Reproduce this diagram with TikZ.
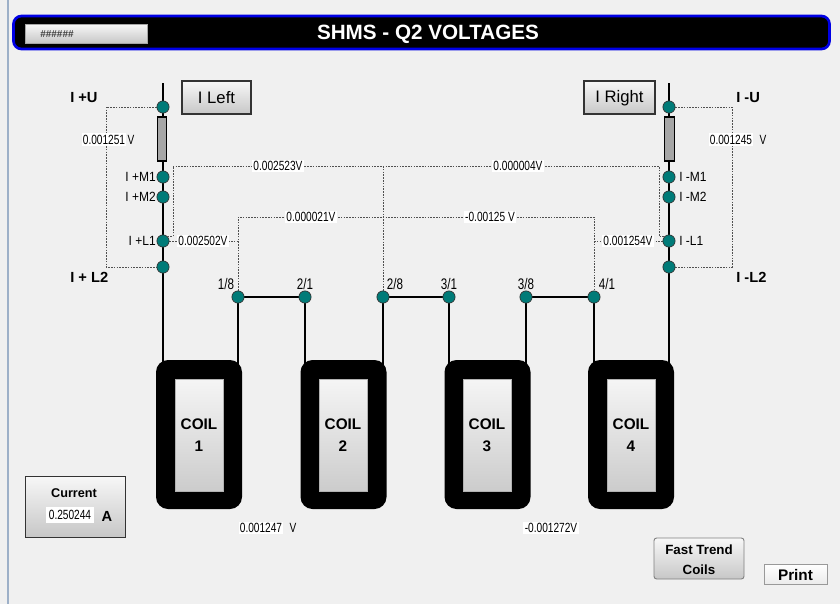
\documentclass[tikz,border=0pt]{standalone}
\usepackage{fontspec}
\setmainfont{Liberation Sans}
\newfontfamily\numf[FakeStretch=0.76]{Liberation Sans}
\newfontfamily\labf[FakeStretch=0.9]{Liberation Sans}
\usetikzlibrary{shadings}
\definecolor{bgc}{HTML}{F0F0F0}
\definecolor{tealc}{HTML}{007B78}
\definecolor{frame}{HTML}{9DB0C8}
\definecolor{dashc}{HTML}{505050}
\pgfdeclarelayer{bg}
\pgfsetlayers{bg,main}
\begin{document}
\begin{tikzpicture}[x=0.75pt,y=-0.75pt,
  wire/.style={draw=black,line width=1.3pt},
  dl/.style={draw=dashc,line width=0.7pt,dash pattern=on 1.2pt off 0.9pt},
  dot/.style={circle,fill=tealc,draw=black!80,line width=0.5pt,minimum size=9.2pt,inner sep=0pt},
  res/.style={rectangle,fill=gray!70,draw=black,line width=0.9pt,minimum width=7pt,minimum height=33pt,inner sep=0pt},
  coilbox/.style={rectangle,rounded corners=9pt,fill=black,minimum width=64.5pt,minimum height=111.75pt,inner sep=0pt},
  coilin/.style={rectangle,draw=gray!60,line width=0.4pt,top color=white!96!black,bottom color=black!20,minimum width=36pt,minimum height=84pt,inner sep=0pt,align=center,font=\bfseries\fontsize{11.5}{16.5}\selectfont},
  val/.style={fill=white,inner sep=1pt,font=\numf\fontsize{10}{11}\selectfont},
  vtxt/.style={inner sep=0.5pt,font=\numf\fontsize{10}{11}\selectfont},
  bl/.style={inner sep=0pt,font=\bfseries\fontsize{11}{12}\selectfont},
  sl/.style={inner sep=0pt,font=\labf\fontsize{10}{11}\selectfont},
  nl/.style={inner sep=0pt,font=\numf\fontsize{11.5}{12}\selectfont},
  btn/.style={rectangle,draw=black!80,line width=0.8pt,top color=white!97!black,bottom color=black!22,inner sep=0pt},
]
\begin{pgfonlayer}{bg}
\fill[bgc] (0,0) rectangle (840,604);
\end{pgfonlayer}
\useasboundingbox (0,0) rectangle (840,604);
\draw[frame,line width=0.8pt] (8,0) -- (8,604);

% title bar
\node[rectangle,rounded corners=6pt,fill=black,draw=blue!90!black,line width=2pt,minimum width=612pt,minimum height=24.75pt,inner sep=0pt] (bar) at (421.5,32.5) {};
\node[text=white,font=\bfseries\fontsize{15.5}{17}\selectfont,inner sep=0pt] (title) at (428,34) {SHMS - Q2 VOLTAGES};
\node[btn,draw=gray!70,line width=0.5pt,minimum width=91.5pt,minimum height=14.25pt] (hbtn) at (86,33.5) {};
\node[font=\bfseries\fontsize{7.5}{8}\selectfont,text=black!75,inner sep=0pt,anchor=west] (hash) at (40,34) {\#\#\#\#\#\#};

% coils
\node[coilbox] (c1) at (199,434.5) {};
\node[coilbox] (c2) at (343.5,434.5) {};
\node[coilbox] (c3) at (487.5,434.5) {};
\node[coilbox] (c4) at (631,434.5) {};
\node[coilin] (i1) at (199,435) {COIL\\1};
\node[coilin] (i2) at (343,435) {COIL\\2};
\node[coilin] (i3) at (487,435) {COIL\\3};
\node[coilin] (i4) at (631,435) {COIL\\4};

% left column
\coordinate (ltop) at (163,83);
\node[res] (lR) at (162,139) {};
\node[dot] (lU) at (163,107) {};
\node[dot] (lM1) at (163,177) {};
\node[dot] (lM2) at (163,197) {};
\node[dot] (lL1) at (163,241) {};
\node[dot] (lL2) at (163,267) {};
% right column
\coordinate (rtop) at (669,83);
\node[res] (rR) at (669.5,139) {};
\node[dot] (rU) at (669,107) {};
\node[dot] (rM1) at (669,177) {};
\node[dot] (rM2) at (669,197) {};
\node[dot] (rL1) at (669,241) {};
\node[dot] (rL2) at (669,267) {};
% bottom nodes
\node[dot] (n18) at (238,297) {};
\node[dot] (n21) at (305,297) {};
\node[dot] (n28) at (383,297) {};
\node[dot] (n31) at (449,297) {};
\node[dot] (n38) at (526,297) {};
\node[dot] (n41) at (594,297) {};
\coordinate (t28) at (383,166);

\begin{pgfonlayer}{bg}
\draw[wire] (ltop) -- (ltop |- c1.center);
\draw[wire] (rtop) -- (rtop |- c4.center);
\draw[wire] (n18.center) -- (n21.center);
\draw[wire] (n28.center) -- (n31.center);
\draw[wire] (n38.center) -- (n41.center);
\draw[wire] (n18.center) -- (n18 |- c1.center);
\draw[wire] (n21.center) -- (n21 |- c2.center);
\draw[wire] (n28.center) -- (n28 |- c2.center);
\draw[wire] (n31.center) -- (n31 |- c3.center);
\draw[wire] (n38.center) -- (n38 |- c3.center);
\draw[wire] (n41.center) -- (n41 |- c4.center);
% dashed measurement lines
\draw[dl] (lU) -- ++(-57,0) |- (lL2);
\draw[dl] (rU) -- ++(63,0) |- (rL2);
\draw[dl] (lL1.north east) -| (173,166) -- (659,166) |- (rL1.north west);
\draw[dl] (t28) -- (n28);
\draw[dl] (n18) -- (n18 |- 0,217) -| (n41);
\draw[dl] (lL1) -- (n18 |- lL1);
\draw[dl] (n41 |- rL1) -- (rL1);
\end{pgfonlayer}

% buttons
\node[btn,minimum width=51.75pt,minimum height=24.75pt,line width=1.1pt] (bL) at (216.5,97.5) {};
\node[font=\fontsize{12.5}{13}\selectfont,inner sep=0pt] at (216.5,98) {I Left};
\node[btn,minimum width=53.25pt,minimum height=24.75pt,line width=1.1pt] (bR) at (619.5,97.5) {};
\node[font=\fontsize{12.5}{13}\selectfont,inner sep=0pt] at (619.5,98) {I Right};

% left labels
\node[bl,anchor=west] (tIU) at (70,98) {I +U};
\node[bl,anchor=west] (tIL2) at (70,277) {I + L2};
\node[sl,anchor=east] (tM1) at (156,177) {I +M1};
\node[sl,anchor=east] (tM2) at (156,197) {I +M2};
\node[sl,anchor=east] (tL1) at (156,241) {I +L1};
% right labels
\node[bl,anchor=west] (tRU) at (736,98) {I -U};
\node[bl,anchor=west] (tRL2) at (736,277) {I -L2};
\node[sl,anchor=west] (tRM1) at (679,177) {I -M1};
\node[sl,anchor=west] (tRM2) at (679,197) {I -M2};
\node[sl,anchor=west] (tRL1) at (679,241) {I -L1};

% node labels
\node[nl] (l18) at (226,284) {1/8};
\node[nl] (l21) at (305,284) {2/1};
\node[nl] (l28) at (395,284) {2/8};
\node[nl] (l31) at (449,284) {3/1};
\node[nl] (l38) at (526,284) {3/8};
\node[nl] (l41) at (607,284) {4/1};

% voltage values
\node[val] (v1) at (104,139.5) {0.001251};
\node[vtxt,anchor=west] at (v1.east) {V};
\node[val] (v2) at (731,139.5) {0.001245};
\node[vtxt] at (763,139.5) {V};
\node[val] (v3) at (278,166) {0.002523V};
\node[val] (v4) at (518,166) {0.000004V};
\node[val] (v5) at (311,217) {0.000021V};
\node[val] (v6) at (490,217) {-0.00125 V};
\node[val] (v7) at (203,241) {0.002502V};
\node[val] (v8) at (628,241) {0.001254V};
\node[val] (v9) at (261,528) {0.001247};
\node[vtxt] at (293,528) {V};
\node[val] (v10) at (551,528) {-0.001272V};

% current box
\node[btn,minimum width=75pt,minimum height=45.75pt,line width=0.7pt] (cur) at (75,506.5) {};
\node[font=\bfseries\fontsize{9.5}{10}\selectfont,inner sep=0pt] at (74,493) {Current};
\node[val,minimum height=12pt,minimum width=36pt] (cv) at (70,515) {0.250244};
\node[font=\bfseries\fontsize{11}{12}\selectfont,inner sep=0pt] at (107,516) {A};

% fast trend & print
\node[btn,rounded corners=2pt,draw=gray,line width=0.7pt,minimum width=67.5pt,minimum height=30.75pt] (ft) at (699,558.5) {};
\node[font=\bfseries\fontsize{10}{15}\selectfont,align=center,inner sep=0pt] at (699,559.5) {Fast Trend\\Coils};
\node[btn,draw=gray!80,line width=0.6pt,top color=white,bottom color=black!8,minimum width=47.25pt,minimum height=15pt] (pr) at (795.5,574) {};
\node[font=\bfseries\fontsize{11.5}{12}\selectfont,inner sep=0pt] at (795.5,575) {Print};
\end{tikzpicture}
\end{document}
